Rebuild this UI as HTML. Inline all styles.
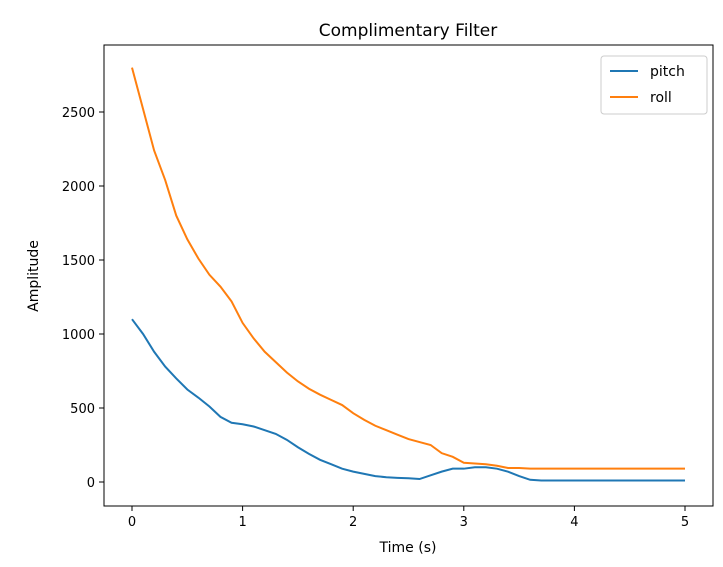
<!DOCTYPE html>
<html><head><meta charset="utf-8"><style>
body{margin:0;background:#fff;font-family:"Liberation Sans","DejaVu Sans",sans-serif}
svg text{font-family:"DejaVu Sans","Liberation Sans",sans-serif;fill:#000}
</style></head><body>
<svg id="c" width="723" height="562"></svg>
<script>
const times=[];for(let i=0;i<=50;i++)times.push(i/10);
const pitch=[1100,1000,880,780,700,625,570,510,440,400,390,375,350,325,285,235,190,150,120,90,70,55,40,32,28,25,20,45,70,90,90,100,100,90,70,40,15,10,10,10,10,10,10,10,10,10,10,10,10,10,10];
const roll=[2800,2520,2240,2040,1800,1640,1510,1400,1320,1220,1075,970,880,810,740,680,630,590,555,520,465,420,380,350,320,290,270,250,195,170,130,125,120,110,95,95,90,90,90,90,90,90,90,90,90,90,90,90,90,90,90];
const xTicks=[0,1,2,3,4,5];
const yTicks=[0,500,1000,1500,2000,2500];
const NS="http://www.w3.org/2000/svg",svg=document.getElementById('c');
const L=104,R=713,T=45,B=506;
const X=v=>132+v*110.6, Y=v=>482-v*0.148;
function mk(t,a,p){const e=document.createElementNS(NS,t);for(const k in a)e.setAttribute(k,a[k]);(p||svg).appendChild(e);return e;}
xTicks.forEach(v=>{mk('line',{x1:X(v),x2:X(v),y1:B,y2:B+5,stroke:'#000'});const t=mk('text',{x:X(v),y:B+20,'font-size':13,'text-anchor':'middle'});t.textContent=v;

});
yTicks.forEach(v=>{mk('line',{x1:L-5,x2:L,y1:Y(v),y2:Y(v),stroke:'#000'});const t=mk('text',{x:L-9,y:Y(v)+5,'font-size':13,'text-anchor':'end'});t.textContent=v;

});
function line(d,c,n){const p=mk('polyline',{points:d.map((v,i)=>X(times[i])+','+Y(v)).join(' '),fill:'none',stroke:c,'stroke-width':2});

}
line(pitch,'#1f77b4','pitch-line');line(roll,'#ff7f0e','roll-line');
const f=mk('rect',{x:L,y:T,width:R-L,height:B-T,fill:'none',stroke:'#000'});


let t=mk('text',{x:408,y:36,'font-size':17,'text-anchor':'middle'});t.textContent='Complimentary Filter';

t=mk('text',{x:408,y:552,'font-size':14,'text-anchor':'middle'});t.textContent='Time (s)';

t=mk('text',{x:38,y:276,'font-size':14,'text-anchor':'middle',transform:'rotate(-90 38 276)'});t.textContent='Amplitude';

const g=mk('g',{});

mk('rect',{x:601,y:56,width:106,height:58,rx:3,fill:'#fff',stroke:'#ccc'},g);
[['pitch','#1f77b4',71],['roll','#ff7f0e',97]].forEach(([n,c,y])=>{mk('line',{x1:610,x2:638,y1:y,y2:y,stroke:c,'stroke-width':2},g);const tt=mk('text',{x:650,y:y+5,'font-size':14},g);tt.textContent=n;
});
</script>
</body></html>
